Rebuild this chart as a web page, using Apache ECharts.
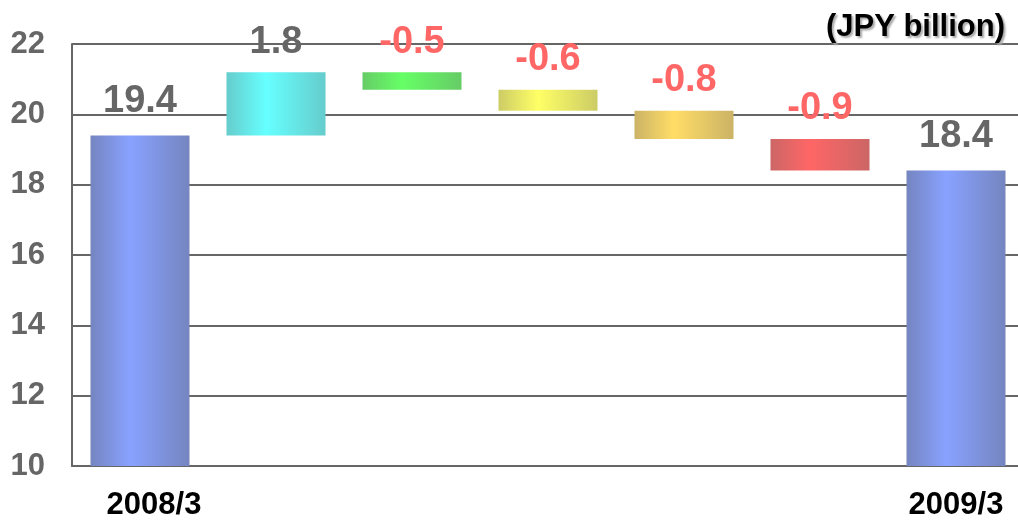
<!DOCTYPE html>
<html>
<head>
<meta charset="utf-8">
<script src="https://cdn.jsdelivr.net/npm/echarts@6/dist/echarts.min.js"></script>
<style>html,body{margin:0;padding:0;background:#fff}#c{width:1018px;height:523px}</style>
</head>
<body>
<div id="c"></div>
<script>
var categories = ['2008/3', '', '', '', '', '', '2009/3'];
var startValue = 19.4;
var endValue = 18.4;
var deltas = [1.8, -0.5, -0.6, -0.8, -0.9];
var yTicks = { min: 10, max: 22, interval: 2 };
var unitLabel = '(JPY billion)';

var endColors = ['#7585c0', '#88a2ff'];
var deltaColors = [
  ['#66cccc', '#66ffff'],
  ['#66cc66', '#66ff66'],
  ['#cccc66', '#ffff66'],
  ['#ccb366', '#ffdd66'],
  ['#cc6666', '#ff6666']
];

function grad(c) {
  return new echarts.graphic.LinearGradient(0, 0, 1, 0, [
    { offset: 0, color: c[0] },
    { offset: 0.4, color: c[1] },
    { offset: 1, color: c[0] }
  ]);
}

var baseData = [0];
var endData = [startValue];
var deltaData = ['-'];
var running = startValue;
deltas.forEach(function (d, i) {
  var next = running + d;
  baseData.push(Math.min(running, next));
  endData.push('-');
  deltaData.push({
    value: Math.abs(d),
    itemStyle: { color: grad(deltaColors[i]) },
    label: { color: d < 0 ? '#ff6666' : '#666666' }
  });
  running = next;
});
baseData.push(0);
endData.push(endValue);
deltaData.push('-');

var FF = 'Liberation Sans, Arial, sans-serif';
var labelFont = { fontFamily: FF, fontWeight: 'bold', fontSize: 38 };

var chart = echarts.init(document.getElementById('c'));
chart.setOption({
  animation: false,
  title: {
    text: unitLabel,
    right: 8,
    top: 7,
    textStyle: {
      fontFamily: FF,
      fontWeight: 'bold',
      fontSize: 31,
      color: '#000',
      textShadowColor: '#aaaaaa',
      textShadowOffsetX: 2,
      textShadowOffsetY: 2,
      textShadowBlur: 2
    }
  },
  grid: { left: 72, top: 44, width: 952, height: 422, containLabel: false, outerBoundsMode: 'none' },
  xAxis: {
    type: 'category',
    data: categories,
    axisLine: { show: true, lineStyle: { color: '#666', width: 2 } },
    axisTick: { show: false },
    axisLabel: {
      interval: 0,
      margin: 24,
      color: '#000',
      fontFamily: FF,
      fontWeight: 'bold',
      fontSize: 31,
      formatter: function (v, i) { return i === 0 ? '{a|' + v + '}' : '{b|' + v + '}'; },
      rich: {
        a: { padding: [0, 0, 0, 28], fontFamily: FF, fontWeight: 'bold', fontSize: 31, color: '#000' },
        b: { fontFamily: FF, fontWeight: 'bold', fontSize: 31, color: '#000' }
      }
    }
  },
  yAxis: {
    type: 'value',
    min: yTicks.min,
    max: yTicks.max,
    interval: yTicks.interval,
    axisLine: { show: true, lineStyle: { color: '#666', width: 2 } },
    axisTick: { show: false },
    splitLine: { show: true, lineStyle: { color: '#666', width: 2 } },
    axisLabel: {
      margin: 27,
      color: '#666',
      fontFamily: FF,
      fontWeight: 'bold',
      fontSize: 31
    }
  },
  series: [
    {
      type: 'bar', stack: 'w', data: baseData, barWidth: 99,
      itemStyle: { color: 'transparent' }, silent: true
    },
    {
      type: 'bar', stack: 'w', data: endData, barWidth: 99,
      itemStyle: { color: grad(endColors) },
      label: Object.assign({ show: true, position: 'top', distance: 15, color: '#666666',
        formatter: function (p) { return p.value.toFixed(1); } }, labelFont)
    },
    {
      type: 'bar', stack: 'w', data: deltaData, barWidth: 99,
      label: Object.assign({ show: true, position: 'top', distance: 11,
        formatter: function (p) { var d = deltas[p.dataIndex - 1]; return d.toFixed(1); } }, labelFont)
    }
  ]
});
</script>
</body>
</html>
